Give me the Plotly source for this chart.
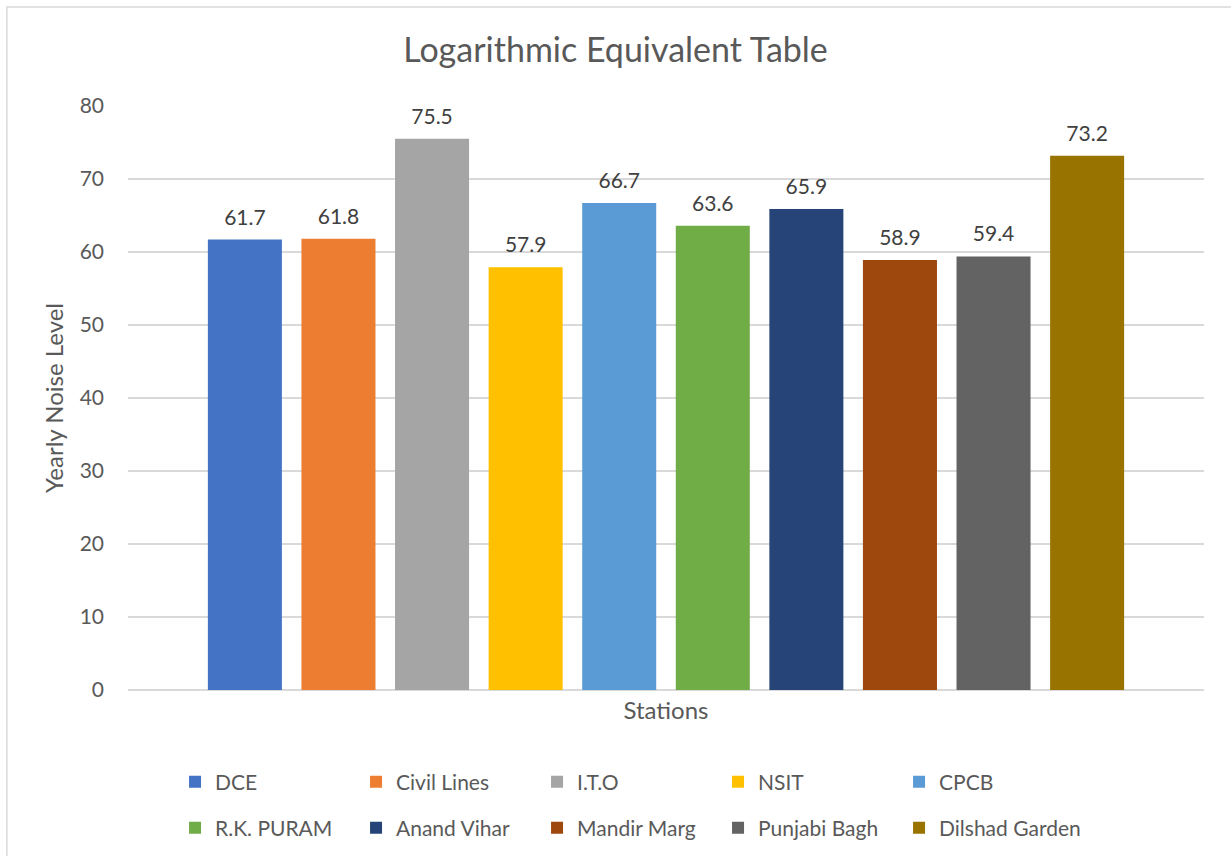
import plotly.graph_objects as go

# Yearly logarithmic-equivalent noise level per monitoring station
stations = ["DCE", "Civil Lines", "I.T.O", "NSIT", "CPCB",
            "R.K. PURAM", "Anand Vihar", "Mandir Marg", "Punjabi Bagh", "Dilshad Garden"]
noise_levels = [61.7, 61.8, 75.5, 57.9, 66.7, 63.6, 65.9, 58.9, 59.4, 73.2]
colors = ["#4472C4", "#ED7D31", "#A5A5A5", "#FFC000", "#5B9BD5",
          "#70AD47", "#264478", "#9E480E", "#636363", "#997300"]
y_ticks = [0, 10, 20, 30, 40, 50, 60, 70, 80]

FONT = "Lato"
TEXT_GREY = "#595959"
GRID = "#D9D9D9"

fig = go.Figure()

for i, (name, val, col) in enumerate(zip(stations, noise_levels, colors)):
    fig.add_trace(go.Bar(
        x=[name], y=[val], name=name,
        marker=dict(color=col, line=dict(width=0)),
        legend="legend" if i < 5 else "legend2",
        hoverinfo="name+y",
    ))

# value labels above each bar
fig.add_trace(go.Scatter(
    x=stations, y=noise_levels, mode="markers+text",
    text=[f"{v:.1f}" for v in noise_levels],
    textposition="top center",
    textfont=dict(family=FONT, size=21, color="#404040"),
    marker=dict(size=14, opacity=0),
    showlegend=False, hoverinfo="skip",
))

# light frame around the chart area
fig.add_shape(type="rect", xref="paper", yref="paper",
              x0=(7 - 128) / 1075, x1=(1240 - 128) / 1075,
              y0=(690 - 870) / 584, y1=(690 - 7) / 584,
              line=dict(color=GRID, width=1.5), fillcolor="rgba(0,0,0,0)", layer="below")

legend_common = dict(
    orientation="h", xanchor="left", yanchor="middle",
    font=dict(family=FONT, size=21, color=TEXT_GREY),
    entrywidth=136, entrywidthmode="pixels",
    bgcolor="rgba(0,0,0,0)", itemclick=False, itemdoubleclick=False,
)

fig.update_layout(
    width=1231, height=856,
    margin=dict(l=128, r=27, t=106, b=166, autoexpand=False),
    paper_bgcolor="white", plot_bgcolor="white",
    barmode="overlay", bargap=0.209,
    font=dict(family=FONT, color=TEXT_GREY),
    title=dict(text="Logarithmic Equivalent Table", x=0.5, xanchor="center",
               y=1 - 50 / 856, yanchor="middle",
               font=dict(family=FONT, size=34, color=TEXT_GREY)),
    xaxis=dict(
        type="category", categoryorder="array", categoryarray=stations,
        range=[-1.249, 10.249], showticklabels=False, showgrid=False,
        zeroline=False, showline=False, ticks="", automargin=False,
        title=dict(text="Stations", standoff=12,
                   font=dict(family=FONT, size=24, color=TEXT_GREY)),
        fixedrange=True,
    ),
    yaxis=dict(
        range=[0, 80], tickvals=y_ticks, showgrid=True, gridcolor=GRID, gridwidth=1.5,
        zeroline=True, zerolinecolor=GRID, zerolinewidth=1.5, showline=False,
        ticks="", ticklabelstandoff=23, automargin=False,
        tickfont=dict(family=FONT, size=21, color=TEXT_GREY),
        title=dict(text="Yearly Noise Level", standoff=9,
                   font=dict(family=FONT, size=24, color=TEXT_GREY)),
        fixedrange=True,
    ),
    legend=dict(x=(175 - 128) / 1075, y=(690 - 782) / 584, **legend_common),
    legend2=dict(x=(175 - 128) / 1075, y=(690 - 828) / 584, **legend_common),
    showlegend=True,
)

fig.write_html("out.html")
